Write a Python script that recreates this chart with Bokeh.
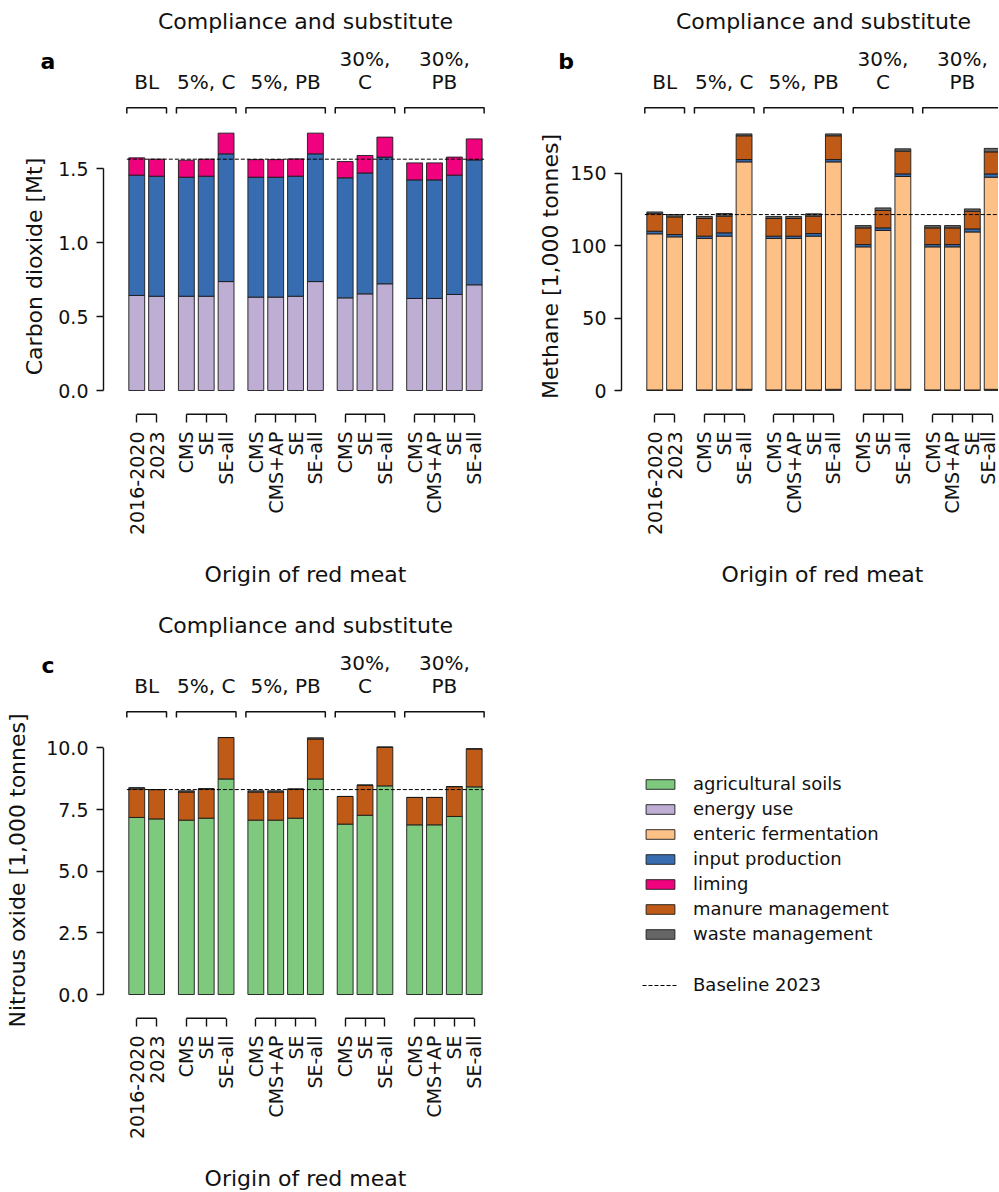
import math
from bokeh.plotting import figure
from bokeh.models import (Range1d, FixedTicker, PrintfTickFormatter, Label,
                          Legend, LegendItem, ColumnDataSource)
from bokeh.layouts import row, column
from bokeh.embed import file_html
from bokeh.resources import INLINE
from bokeh.core.properties import value

FONT = "DejaVu Sans"

# ---------------- data ----------------
groups = ["BL", "5%, C", "5%, PB", "30%, C", "30%, PB"]
group_lines = [["BL"], ["5%, C"], ["5%, PB"], ["30%,", "C"], ["30%,", "PB"]]
group_sizes = [2, 3, 4, 3, 4]
origins = ["2016-2020", "2023",
           "CMS", "SE", "SE-all",
           "CMS", "CMS+AP", "SE", "SE-all",
           "CMS", "SE", "SE-all",
           "CMS", "CMS+AP", "SE", "SE-all"]
baseline_index = 1  # "2023"

components = ["agricultural soils", "energy use", "enteric fermentation",
              "input production", "liming", "manure management", "waste management"]
component_colors = ["#7fc97f", "#beaed4", "#fdc086", "#386cb0", "#f0027f", "#bf5b17", "#666666"]

# Carbon dioxide [Mt]
co2_energy_use = [0.642, 0.637, 0.637, 0.637, 0.736, 0.631, 0.631, 0.637, 0.736,
                  0.626, 0.653, 0.721, 0.622, 0.622, 0.649, 0.714]
co2_input_production = [0.813, 0.811, 0.804, 0.811, 0.863, 0.810, 0.810, 0.811, 0.863,
                        0.811, 0.817, 0.856, 0.801, 0.801, 0.806, 0.844]
co2_liming = [0.117, 0.115, 0.115, 0.115, 0.140, 0.119, 0.119, 0.117, 0.140,
              0.110, 0.118, 0.135, 0.115, 0.115, 0.122, 0.142]

# Methane [1,000 tonnes]
ch4_energy_use = [0.4, 0.4, 0.4, 0.4, 0.8, 0.4, 0.4, 0.4, 0.8,
                  0.4, 0.4, 0.8, 0.4, 0.4, 0.4, 0.8]
ch4_enteric_fermentation = [107.8, 105.7, 104.6, 106.2, 157.1, 104.6, 104.6, 106.2, 157.1,
                            98.8, 110.1, 147.0, 98.8, 98.8, 109.1, 146.5]
ch4_input_production = [1.8, 1.6, 1.6, 2.3, 1.6, 1.6, 1.6, 1.8, 1.6,
                        1.6, 1.8, 1.8, 1.6, 1.6, 2.1, 2.3]
ch4_manure_management = [12.1, 12.2, 12.2, 11.5, 16.4, 12.2, 12.2, 12.0, 16.4,
                         11.5, 12.0, 15.7, 11.5, 11.5, 12.2, 15.2]
ch4_waste_management = [1.2, 1.6, 1.4, 1.8, 1.3, 1.4, 1.4, 1.6, 1.3,
                        1.6, 1.8, 1.6, 1.6, 1.6, 1.6, 2.4]

# Nitrous oxide [1,000 tonnes]
n2o_agricultural_soils = [7.18, 7.12, 7.07, 7.15, 8.74, 7.07, 7.07, 7.15, 8.74,
                          6.91, 7.27, 8.46, 6.88, 6.88, 7.22, 8.42]
n2o_manure_management = [1.16, 1.19, 1.14, 1.19, 1.68, 1.14, 1.14, 1.18, 1.62,
                         1.12, 1.22, 1.57, 1.11, 1.11, 1.21, 1.54]
n2o_waste_management = [0.05, 0.0, 0.05, 0.0, 0.0, 0.05, 0.05, 0.0, 0.05,
                        0.0, 0.0, 0.0, 0.0, 0.0, 0.0, 0.0]

# ---------------- layout constants ----------------
PX = 19.85          # pixels per x unit
BAR_W = 0.8
AXIS_OFF = 414      # px from figure top to the x-axis line
ZERO_OFF = 390      # px from figure top to y=0
LEFT_PAD = 25.3     # px between y-axis line and first bar edge
YLABEL_OFF = 266    # px from figure top to the centre of the y-axis label

# x positions from the group structure (0.5 extra gap between groups)
x_pos = []
group_idx = []
pos = 0.0
for gi, n in enumerate(group_sizes):
    group_idx.append((len(x_pos), len(x_pos) + n - 1))
    for k in range(n):
        x_pos.append(pos)
        pos += 1
    pos += 0.5

x_axis_loc = x_pos[0] - BAR_W / 2 - LEFT_PAD / PX   # where the y axis sits
center_x = (x_pos[0] + x_pos[-1]) / 2


def make_panel(series, ylabel, yticks, fmt, scale, letter, width, height,
               axis_px, xlab_standoff, ylab_standoff):
    # axis_px: px from figure left to the y-axis line
    x0 = x_axis_loc - axis_px / PX
    y_start = -(height - ZERO_OFF) / scale
    y_end = ZERO_OFF / scale

    def yd(off):  # px offset below figure top -> data
        return (ZERO_OFF - off) / scale

    p = figure(width=width, height=height, title=None, toolbar_location=None,
               output_backend="svg",
               x_range=Range1d(x0, x0 + width / PX),
               y_range=Range1d(y_start, y_end),
               min_border=0, min_border_left=0, min_border_right=0,
               min_border_top=0, min_border_bottom=0)
    p.outline_line_color = None
    p.grid.visible = False
    p.background_fill_color = "white"
    p.border_fill_color = "white"

    names = [n.replace(" ", "_") for n, _ in series]
    data = {"x": x_pos}
    for (n, vals), key in zip(series, names):
        data[key] = vals
    src = ColumnDataSource(data)
    fills = [component_colors[components.index(n)] for n, _ in series]
    p.vbar_stack(names, x="x", width=BAR_W, source=src, fill_color=fills,
                 line_color="#1a1a1a", line_width=0.9)

    # baseline (2023 total)
    bl = sum(vals[baseline_index] for _, vals in series)
    p.line(x=[x_pos[0] - 0.5, x_pos[-1] + 0.5], y=[bl, bl], line_color="black",
           line_width=1, line_dash="4 2")

    # group brackets above bars
    xs, ys = [], []
    for i0, i1 in group_idx:
        xs.append([x_pos[i0] - 0.5, x_pos[i0] - 0.5, x_pos[i1] + 0.5, x_pos[i1] + 0.5])
        ys.append([yd(113.0), yd(107.3), yd(107.3), yd(113.0)])
    p.multi_line(xs, ys, line_color="#111111", line_width=1.5)

    # group labels
    tx, ty, tt = [], [], []
    for (i0, i1), lines in zip(group_idx, group_lines):
        n = len(lines)
        for li, t in enumerate(lines):
            tx.append((x_pos[i0] + x_pos[i1]) / 2)
            ty.append(yd(81.5 - (n - 1 - li) * 22.7))
            tt.append(t)
    p.text(x=tx, y=ty, text=tt, text_align="center", text_baseline="alphabetic",
           text_font=value(FONT), text_font_size="20px", text_color="#111111")

    # title of the group row
    p.add_layout(Label(x=center_x, y=yd(20.8), text="Compliance and substitute",
                       text_align="center", text_baseline="alphabetic",
                       text_font=FONT, text_font_size="22px", text_color="#111111"))
    # panel letter
    p.add_layout(Label(x=x_axis_loc - 55.5 / PX, y=yd(60.8), text=letter,
                       text_align="center", text_baseline="alphabetic",
                       text_font=FONT, text_font_size="22px", text_font_style="bold",
                       text_color="black"))

    # x axis: per-group spine segments
    y_axis_line = yd(AXIS_OFF - 0.2)
    for i0, i1 in group_idx:
        p.segment(x0=[x_pos[i0]], x1=[x_pos[i1]], y0=[y_axis_line],
                  y1=[y_axis_line], line_color="#111111", line_width=1.4)
    # y axis spine trimmed to the tick range
    p.segment(x0=[x_axis_loc], x1=[x_axis_loc], y0=[yticks[0]], y1=[yticks[-1]],
              line_color="#111111", line_width=1.4)

    xa = p.xaxis[0]
    xa.fixed_location = yd(AXIS_OFF)
    xa.bounds = (x_pos[0] - BAR_W / 2, x_pos[-1] + BAR_W / 2)
    xa.ticker = FixedTicker(ticks=x_pos)
    xa.major_label_overrides = {xv: lab for xv, lab in zip(x_pos, origins)}
    xa.major_label_orientation = math.pi / 2
    xa.axis_line_color = None
    xa.major_tick_out = 8
    xa.major_tick_in = 0
    xa.major_tick_line_width = 1.4
    xa.major_tick_line_color = "#111111"
    xa.minor_tick_line_color = None
    xa.major_label_standoff = 9
    xa.major_label_text_font = FONT
    xa.major_label_text_font_size = "19px"
    xa.major_label_text_color = "#111111"
    xa.axis_label = "Origin of red meat"
    xa.axis_label_text_font = FONT
    xa.axis_label_text_font_size = "22px"
    xa.axis_label_text_font_style = "normal"
    xa.axis_label_text_color = "#111111"
    xa.axis_label_standoff = xlab_standoff

    ya = p.yaxis[0]
    ya.fixed_location = x_axis_loc
    label_mid = yd(YLABEL_OFF)
    ya.bounds = (yticks[0], max(2 * label_mid - yticks[0], yticks[-1] * 1.001))
    ya.ticker = FixedTicker(ticks=yticks)
    ya.formatter = PrintfTickFormatter(format=fmt)
    ya.axis_line_color = None
    ya.major_tick_out = 7
    ya.major_tick_in = 0
    ya.major_tick_line_width = 1.4
    ya.major_tick_line_color = "#111111"
    ya.minor_tick_line_color = None
    ya.major_label_standoff = 8
    ya.major_label_text_font = FONT
    ya.major_label_text_font_size = "19px"
    ya.major_label_text_color = "#111111"
    ya.axis_label = ylabel
    ya.axis_label_text_font = FONT
    ya.axis_label_text_font_size = "22px"
    ya.axis_label_text_font_style = "normal"
    ya.axis_label_text_color = "#111111"
    ya.axis_label_standoff = ylab_standoff
    return p


pa = make_panel([("energy use", co2_energy_use),
                 ("input production", co2_input_production),
                 ("liming", co2_liming)],
                "Carbon dioxide [Mt]", [0, 0.5, 1.0, 1.5], "%.1f", 148.0, "a",
                520, 604, 103, 24, 8)

pb = make_panel([("energy use", ch4_energy_use),
                 ("enteric fermentation", ch4_enteric_fermentation),
                 ("input production", ch4_input_production),
                 ("manure management", ch4_manure_management),
                 ("waste management", ch4_waste_management)],
                "Methane [1,000 tonnes]", [0, 50, 100, 150], "%d", 1.448, "b",
                478, 604, 101, 24, 4)

pc = make_panel([("agricultural soils", n2o_agricultural_soils),
                 ("manure management", n2o_manure_management),
                 ("waste management", n2o_waste_management)],
                "Nitrous oxide [1,000 tonnes]", [0, 2.5, 5.0, 7.5, 10.0], "%.1f", 24.66, "c",
                520, 587, 103, 24, 13)

# ---------------- legend panel ----------------
pleg = figure(width=478, height=587, title=None, toolbar_location=None,
              output_backend="svg", x_axis_type=None, y_axis_type=None,
              x_range=Range1d(0, 1), y_range=Range1d(0, 1),
              min_border=0, min_border_left=0, min_border_right=0,
              min_border_top=0, min_border_bottom=0)
pleg.outline_line_color = None
pleg.grid.visible = False

# legend swatches: renderers kept outside the visible range of this panel
items = []
for name, col in zip(components, component_colors):
    r = pleg.vbar(x=[-10], top=[-10], bottom=[-11], width=1, fill_color=col,
                  line_color="#1a1a1a", line_width=0.9)
    items.append(LegendItem(label=name, renderers=[r]))
rl = pleg.line(x=[-10, -9], y=[-10, -10], line_color="black", line_width=1, line_dash="4 2")

common = dict(orientation="vertical", glyph_width=36, glyph_height=12, label_standoff=15,
              spacing=0, padding=0, margin=0, border_line_color=None,
              background_fill_alpha=0, label_text_font=FONT, label_text_font_size="18px",
              label_text_color="#111111", label_height=25)
leg1 = Legend(items=items, location=(122, 245), **common)
leg2 = Legend(items=[LegendItem(label="Baseline 2023", renderers=[rl])],
              location=(122, 194), **common)
pleg.add_layout(leg1)
pleg.add_layout(leg2)

layout = column(row(pa, pb), row(pc, pleg))
open("out.html", "w").write(file_html(layout, INLINE))
